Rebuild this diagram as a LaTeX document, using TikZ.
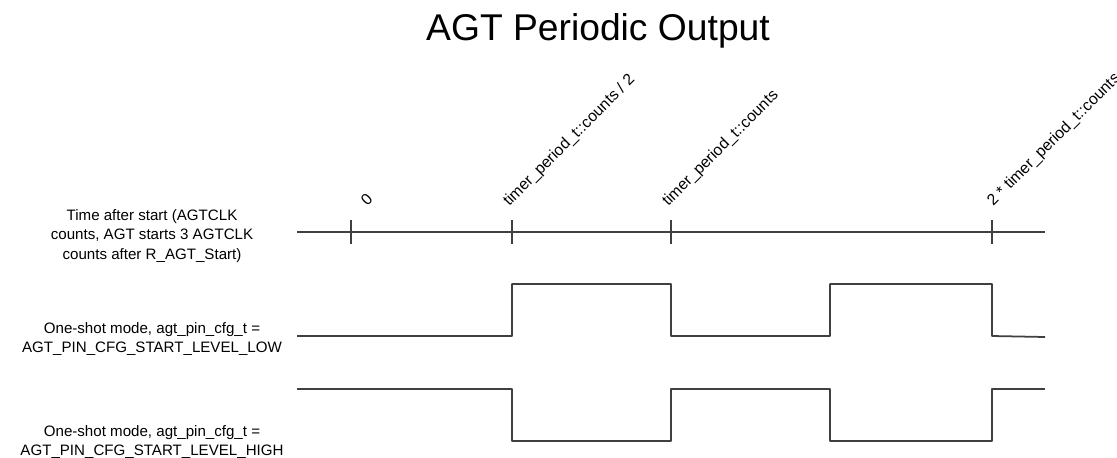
\documentclass[tikz,border=0pt]{standalone}
\usepackage{fontspec}
\setmainfont{Liberation Sans}
\usetikzlibrary{calc}

\begin{document}
\begin{tikzpicture}[x=0.02cm, y=-0.02cm, line join=round,
    senal/.style={draw=black!75, line width=1pt},
    etiq/.style={font=\fontsize{8.6}{11.1}\selectfont, align=center, inner sep=0pt},
    marca/.style={font=\fontsize{9}{10.8}\selectfont, rotate=45, anchor=base west, inner sep=0pt}]
    \useasboundingbox (0,0) rectangle (1117,457);
    % titulo
    \node[font=\fontsize{21.2}{25}\selectfont, inner sep=0pt] (titulo) at (598,31) {AGT Periodic Output};
    % eje de tiempo: marcas en 0, T/2, T y 2T
    \coordinate (t0) at (351,232); \coordinate (t1) at (512,232);
    \coordinate (t2) at (671,232); \coordinate (t3) at (992,232);
    \draw[senal] (297,232) -- (1045,232);
    \foreach \t in {t0,t1,t2,t3}
        \draw[senal] ($(\t)+(0,-12)$) -- ($(\t)+(0,12)$);
    \node[marca] (m0) at ($(t0)+(16,-25)$) {0};
    \node[marca] (m1) at ($(t1)+(-3,-25)$) {timer\_period\_t::counts / 2};
    \node[marca] (m2) at ($(t2)+(-3,-25)$) {timer\_period\_t::counts};
    \node[marca] (m3) at ($(t3)+(1,-25)$) {2 * timer\_period\_t::counts};
    % etiquetas de la izquierda
    \node[etiq] (lt) at (152,236) {Time after start (AGTCLK\\counts, AGT starts 3 AGTCLK\\counts after R\_AGT\_Start)};
    \node[etiq] (lb) at (152,339) {One-shot mode, agt\_pin\_cfg\_t =\\AGT\_PIN\_CFG\_START\_LEVEL\_LOW};
    \node[etiq] (la) at (152,442) {One-shot mode, agt\_pin\_cfg\_t =\\AGT\_PIN\_CFG\_START\_LEVEL\_HIGH};
    % salidas
    \draw[senal] (297,336) -| (512,284) -| (671,336) -| (830,284) -| (992,336) -- (1045,337);
    \draw[senal] (297,389) -| (512,441) -| (671,389) -| (830,441) -| (992,389) -- (1045,389);
\end{tikzpicture}
\end{document}
